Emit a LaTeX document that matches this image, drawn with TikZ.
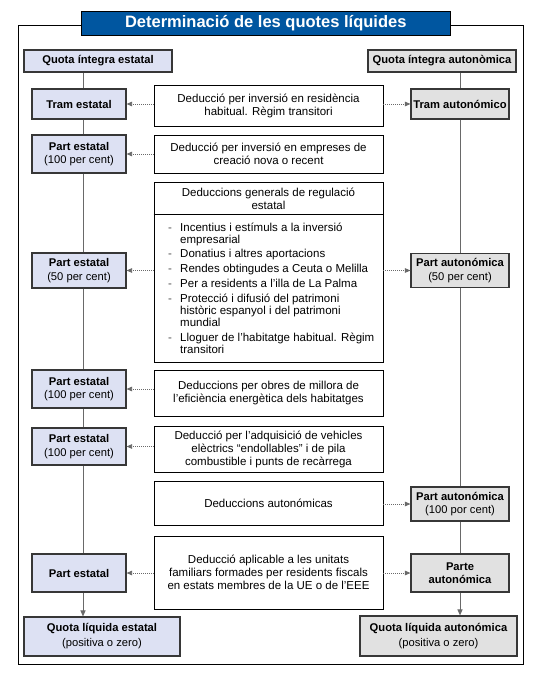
\documentclass[tikz,border=0pt]{standalone}
\usepackage{fontspec}
\setmainfont{Liberation Sans}
\usetikzlibrary{arrows.meta}
\definecolor{lblue}{RGB}{221,225,243}
\definecolor{lgrey}{RGB}{225,225,225}
\definecolor{tblue}{RGB}{0,86,160}
\definecolor{edgec}{RGB}{55,55,55}
\definecolor{conn}{RGB}{105,105,105}
\tikzset{
  bodyfont/.style={font=\fontsize{11.5}{13}\selectfont},
  cbox/.style={draw=black, line width=0.9pt, fill=white, inner sep=0pt, align=center,
    minimum width=229pt, bodyfont},
  lbox/.style={draw=edgec, line width=1.1pt, fill=lblue, inner sep=0pt, align=center,
    minimum width=94pt, font=\fontsize{11.2}{13.5}\selectfont},
  rbox/.style={draw=edgec, line width=1.1pt, fill=lgrey, inner sep=0pt, align=center,
    minimum width=98pt, font=\fontsize{11.2}{13.5}\selectfont},
  qbox/.style={inner sep=0pt, align=center, line width=1.1pt, draw=edgec,
    font=\fontsize{11.2}{15}\selectfont},
  vline/.style={draw=conn, line width=1pt},
  vlinearrow/.style={vline, -{Triangle[length=6pt,width=5pt]}},
  dotarrow/.style={draw=conn, line width=0.8pt, dash pattern=on 1pt off 1pt,
    -{Triangle[length=5.5pt,width=4.5pt]}},
  listtext/.style={bodyfont, anchor=base west, inner sep=0pt},
  dashmark/.style={bodyfont, anchor=base, inner sep=0pt, text=black!70},
}
\begin{document}
\begin{tikzpicture}[x=1pt,y=-1pt]
\useasboundingbox (0,0) rectangle (533,676);
\fill[white] (0,0) rectangle (533,676);

% frame and title
\node[draw=black, line width=0.9pt, minimum width=505pt, minimum height=639pt, inner sep=0pt] (F) at (270.5,344.5) {};
\node[draw=black, line width=0.9pt, fill=tblue, text=white, minimum width=368.5pt, minimum height=24pt,
  inner sep=0pt, font=\fontsize{16.5}{18}\selectfont\bfseries] (T) at (265.75,23) {Determinació de les quotes líquides};

% column coordinates
\coordinate (colL) at (83,0);
\coordinate (colR) at (460,0);
\coordinate (sepy) at (0,214);

% top quota boxes
\node[qbox, fill=lblue, minimum width=148pt, minimum height=22pt] (QE) at (98,61) {\bfseries Quota íntegra estatal};
\node[qbox, fill=lgrey, minimum width=148pt, minimum height=22pt] (QA) at (442,61) {\bfseries Quota íntegra autonòmica};

% left column
\node[lbox, minimum height=30pt] (L1) at (79,104) {\bfseries Tram estatal};
\node[lbox, minimum height=38pt] (L2) at (79,154) {{\bfseries Part estatal}\\(100 per cent)};
\node[lbox, minimum height=35pt] (L3) at (79,270.5) {{\bfseries Part estatal}\\(50 per cent)};
\node[lbox, minimum height=38pt] (L4) at (79,389) {{\bfseries Part estatal}\\(100 per cent)};
\node[lbox, minimum height=37pt] (L5) at (79,446.5) {{\bfseries Part estatal}\\(100 per cent)};
\node[lbox, minimum height=38pt] (L6) at (79,573) {\bfseries Part estatal};
\node[qbox, fill=lblue, minimum width=156pt, minimum height=39pt] (QLE) at (102,636.5) {{\bfseries Quota líquida estatal}\\(positiva o zero)};

% right column
\node[rbox, minimum height=30pt] (R1) at (460,104) {\bfseries Tram autonómico};
\node[rbox, minimum height=34pt] (R2) at (460,270.5) {{\bfseries Part autonómica}\\(50 per cent)};
\node[rbox, minimum height=34pt] (R3) at (460,504) {{\bfseries Part autonómica}\\(100 por cent)};
\node[rbox, minimum height=38pt] (R4) at (460,573) {\bfseries Parte\\\bfseries autonómica};
\node[qbox, fill=lgrey, minimum width=157pt, minimum height=40pt] (QLA) at (438.5,636) {{\bfseries Quota líquida autonómica}\\(positiva o zero)};

% centre boxes
\node[cbox, minimum height=41pt] (C1) at (268.5,105.5) {Deducció per inversió en residència\\habitual. Règim transitori};
\node[cbox, minimum height=38pt] (C2) at (268.5,154) {Deducció per inversió en empreses de\\creació nova o recent};
\node[cbox, minimum height=180pt] (C3) at (268.5,272) {};
\node[bodyfont, align=center, inner sep=0pt] (C3h) at (268.5,198.5) {Deduccions generals de regulació\\estatal};
\draw[black, line width=0.9pt] (C3.west |- sepy) -- (C3.east |- sepy);
\node[cbox, minimum height=46pt] (C4) at (268.5,393) {Deduccions per obres de millora de\\l’eficiència energètica dels habitatges};
\node[cbox, minimum height=46pt] (C5) at (268.5,449) {Deducció per l’adquisició de vehicles\\elèctrics “endollables” i de pila\\combustible i punts de recàrrega};
\node[cbox, minimum height=44pt] (C6) at (268.5,503) {Deduccions autonómicas};
\node[cbox, minimum height=73pt] (C7) at (268.5,572.5) {Deducció aplicable a les unitats\\familiars formades per residents fiscals\\en estats membres de la UE o de l’EEE};

% list in C3
\node[dashmark] (d1) at (170,231) {-};
\node[listtext] (i1a) at (180,231) {Incentius i estímuls a la inversió};
\node[listtext] (i1b) at (180,243) {empresarial};
\node[dashmark] (d2) at (170,257) {-};
\node[listtext] (i2) at (180,257) {Donatius i altres aportacions};
\node[dashmark] (d3) at (170,272) {-};
\node[listtext] (i3) at (180,272) {Rendes obtingudes a Ceuta o Melilla};
\node[dashmark] (d4) at (170,287) {-};
\node[listtext] (i4) at (180,287) {Per a residents a l’illa de La Palma};
\node[dashmark] (d5) at (170,302) {-};
\node[listtext] (i5a) at (180,302) {Protecció i difusió del patrimoni};
\node[listtext] (i5b) at (180,314) {històric espanyol i del patrimoni};
\node[listtext] (i5c) at (180,326) {mundial};
\node[dashmark] (d6) at (170,341.5) {-};
\node[listtext] (i6a) at (180,341.5) {Lloguer de l’habitatge habitual. Règim};
\node[listtext] (i6b) at (180,353) {transitori};

% vertical connectors left
\draw[vline] (QE.south -| colL) -- (L1.north -| colL);
\draw[vline] (L1.south -| colL) -- (L2.north -| colL);
\draw[vline] (L2.south -| colL) -- (L3.north -| colL);
\draw[vline] (L3.south -| colL) -- (L4.north -| colL);
\draw[vline] (L4.south -| colL) -- (L5.north -| colL);
\draw[vline] (L5.south -| colL) -- (L6.north -| colL);
\draw[vlinearrow] (L6.south -| colL) -- (QLE.north -| colL);

% vertical connectors right
\draw[vline] (QA.south -| colR) -- (R1.north -| colR);
\draw[vline] (R1.south -| colR) -- (R2.north -| colR);
\draw[vline] (R2.south -| colR) -- (R3.north -| colR);
\draw[vline] (R3.south -| colR) -- (R4.north -| colR);
\draw[vlinearrow] (R4.south -| colR) -- (QLA.north -| colR);

% dotted arrows
\draw[dotarrow] (L1.east -| C1.west) -- (L1.east);
\draw[dotarrow] (R1.west -| C1.east) -- (R1.west);
\draw[dotarrow] (L2.east -| C2.west) -- (L2.east);
\draw[dotarrow] (L3.east -| C3.west) -- (L3.east);
\draw[dotarrow] (R2.west -| C3.east) -- (R2.west);
\draw[dotarrow] (L4.east -| C4.west) -- (L4.east);
\draw[dotarrow] (L5.east -| C5.west) -- (L5.east);
\draw[dotarrow] (R3.west -| C6.east) -- (R3.west);
\draw[dotarrow] (L6.east -| C7.west) -- (L6.east);
\draw[dotarrow] (R4.west -| C7.east) -- (R4.west);
\end{tikzpicture}
\end{document}
